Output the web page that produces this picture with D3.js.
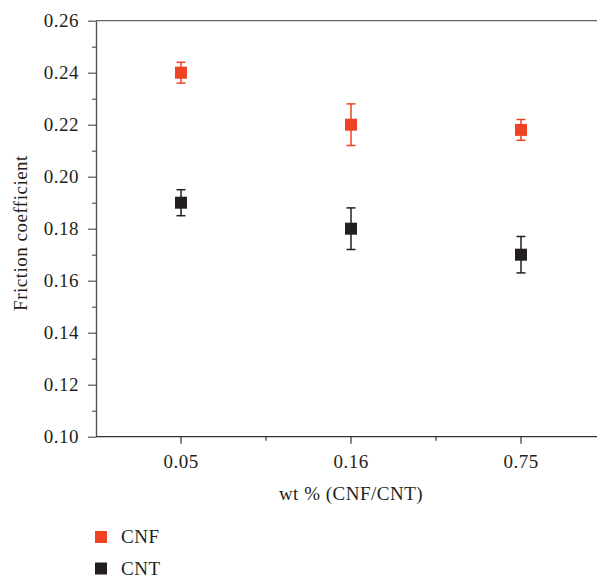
<!DOCTYPE html>
<html><head><meta charset="utf-8">
<script src="https://cdn.jsdelivr.net/npm/d3@7"></script>
<style>body{margin:0;background:#fff;} svg{display:block;} text{letter-spacing:0.5px;}</style>
</head><body>
<svg id="c" width="597" height="577"></svg>
<script>
const categories = ["0.05", "0.16", "0.75"];
const cnfValues = [0.240, 0.220, 0.218];
const cnfErrors = [0.004, 0.008, 0.004];
const cntValues = [0.190, 0.180, 0.170];
const cntErrors = [0.005, 0.008, 0.007];
const yTicks = [0.10, 0.12, 0.14, 0.16, 0.18, 0.20, 0.22, 0.24, 0.26];
const seriesNames = ["CNF", "CNT"];
const colors = {CNF: "#ef4123", CNT: "#231f20"};

(function () {
const svg = d3.select("#c");
const font = "'Liberation Serif', 'DejaVu Serif', serif";
const fs = 19;
const mLeft = 96, mRight = 606, mTop = 20.7, mBottom = 436.7;

const x = d3.scaleLinear().domain([-0.5, 2.5]).range([mLeft, mRight]);
const y = d3.scaleLinear().domain([0.10, 0.26]).range([mBottom, mTop]);

// top frame line
svg.append("line").attr("x1", mLeft).attr("x2", 597).attr("y1", mTop).attr("y2", mTop)
  .attr("stroke", "#666").attr("stroke-width", 1.3);

// y axis
const yMinor = d3.range(0.11, 0.26, 0.02);
svg.append("g").attr("transform", `translate(${mLeft},0)`)
  .call(d3.axisLeft(y).tickValues(yMinor).tickSize(4).tickFormat(""))
  .call(g => g.select(".domain").remove())
  .call(g => g.selectAll("line").attr("stroke", "#555").attr("stroke-width", 1.2));
const ya = svg.append("g").attr("transform", `translate(${mLeft},0)`)
  .call(d3.axisLeft(y).tickValues(yTicks).tickSize(8).tickSizeOuter(0).tickPadding(9).tickFormat(d3.format(".2f")));
ya.select(".domain").attr("stroke", "#555").attr("stroke-width", 1.4);
ya.selectAll("line").attr("stroke", "#555").attr("stroke-width", 1.2);
ya.selectAll("text").attr("font-family", font).attr("font-size", fs).attr("fill", "#231f20");

// x axis
const xa = svg.append("g").attr("transform", `translate(0,${mBottom})`);
xa.append("line").attr("x1", mLeft).attr("x2", 597).attr("y1", 0).attr("y2", 0)
  .attr("stroke", "#333").attr("stroke-width", 1.3);
const xMinor = [0.5, 1.5];
xa.selectAll(".mn").data(xMinor).join("line").attr("class", "mn")
  .attr("x1", d => x(d)).attr("x2", d => x(d)).attr("y1", 0).attr("y2", 4)
  .attr("stroke", "#333").attr("stroke-width", 1.2);
xa.selectAll(".mj").data(categories).join("line").attr("class", "mj")
  .attr("x1", (d, i) => x(i)).attr("x2", (d, i) => x(i)).attr("y1", 0).attr("y2", 7)
  .attr("stroke", "#333").attr("stroke-width", 1.2);
xa.selectAll(".lb").data(categories).join("text").attr("class", "lb")
  .attr("x", (d, i) => x(i)).attr("y", 31).attr("text-anchor", "middle")
  .attr("font-family", font).attr("font-size", fs).attr("fill", "#231f20").text(d => d);

// axis titles
svg.append("text").attr("x", 351).attr("y", 500).attr("text-anchor", "middle")
  .attr("font-family", font).attr("font-size", fs).attr("fill", "#231f20").text("wt % (CNF/CNT)");
svg.append("text").attr("transform", "translate(27,233) rotate(-90)").attr("text-anchor", "middle")
  .attr("font-family", font).attr("font-size", fs).attr("fill", "#231f20").text("Friction coefficient");

// series
const series = [
  {name: "CNF", values: cnfValues, errors: cnfErrors},
  {name: "CNT", values: cntValues, errors: cntErrors}
];
const ms = 12, cap = 9;
series.forEach(s => {
  const g = svg.append("g");
  const c = colors[s.name];
  s.values.forEach((v, i) => {
    const cx = x(i);
    const e = s.errors[i];
    g.append("line").attr("x1", cx).attr("x2", cx).attr("y1", y(v + e)).attr("y2", y(v - e))
      .attr("stroke", c).attr("stroke-width", 1.5);
    [v + e, v - e].forEach(w => g.append("line")
      .attr("x1", cx - cap / 2).attr("x2", cx + cap / 2).attr("y1", y(w)).attr("y2", y(w))
      .attr("stroke", c).attr("stroke-width", 1.5));
    g.append("rect").attr("x", cx - ms / 2).attr("y", y(v) - ms / 2)
      .attr("width", ms).attr("height", ms).attr("fill", c);
  });
});

// legend
seriesNames.forEach((n, i) => {
  const ly = 537 + i * 31.5;
  svg.append("rect").attr("x", 95).attr("y", ly - 6).attr("width", 12).attr("height", 12).attr("fill", colors[n]);
  svg.append("text").attr("x", 121).attr("y", ly + 6).attr("font-family", font).attr("font-size", fs)
    .attr("fill", "#231f20").text(n);
});
})();
</script>
</body></html>
